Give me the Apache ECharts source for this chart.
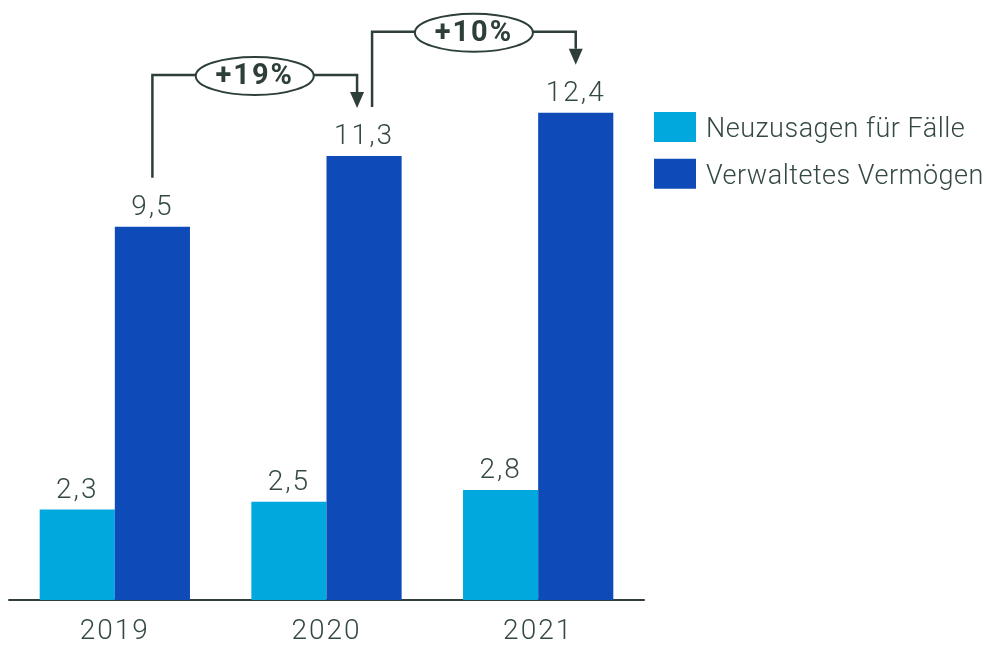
<!DOCTYPE html>
<html>
<head>
<meta charset="utf-8">
<script src="https://cdn.jsdelivr.net/npm/echarts@6/dist/echarts.min.js"></script>
<style>
html,body{margin:0;padding:0;background:#fff;}
#chart{width:990px;height:645px;}
</style>
</head>
<body>
<div id="chart"></div>
<script>
const categories = ['2019', '2020', '2021'];
const neuzusagen = [2.3, 2.5, 2.8];
const vermoegen = [9.5, 11.3, 12.4];
const seriesNames = ['Neuzusagen für Fälle', 'Verwaltetes Vermögen'];
const growthFrom = [0, 1];
const growthTo = [1, 2];
const growthLabels = ['+19%', '+10%'];

// letter spacing for canvas text (reference typeface is tracked out)
(function () {
  const proto = CanvasRenderingContext2D.prototype;
  const desc = Object.getOwnPropertyDescriptor(proto, 'font');
  if (!desc || !('letterSpacing' in proto)) return;
  Object.defineProperty(proto, 'font', {
    configurable: true,
    get: function () { return desc.get.call(this); },
    set: function (v) {
      desc.set.call(this, v);
      const m = /(\d+(?:\.\d+)?)px/.exec(v);
      const s = m ? +m[1] : 0;
      this.letterSpacing = s === 27 ? '0.5px' : (s >= 28 ? '2px' : '0px');
    }
  });
})();

const TEXT = '#34493f';
const LINE = '#2d3f38';
const CAT_GAP = 0.29;

const bracketData = growthFrom.map((f, i) => [f, vermoegen[f], growthTo[i], vermoegen[growthTo[i]], i]);

const chart = echarts.init(document.getElementById('chart'));
const fmt = p => String(p.value).replace('.', ',');

chart.setOption({
  animation: false,
  grid: {left: 9, right: 346, top: 10.5, bottom: 45, containLabel: false, outerBoundsMode: 'none'},
  legend: {
    data: seriesNames, orient: 'vertical', left: 654, top: 112, padding: 0,
    itemWidth: 42, itemHeight: 30, itemGap: 15, icon: 'rect',
    formatter: name => '{t|' + name + '}',
    textStyle: {
      fontSize: 27, color: TEXT, fontFamily: 'Roboto', fontWeight: 300, padding: [0, 0, 0, 5],
      rich: {t: {fontSize: 27, color: TEXT, fontFamily: 'Roboto', fontWeight: 300, padding: [6, 0, 0, 0]}}
    }
  },
  xAxis: {
    type: 'category', data: categories,
    axisLine: {lineStyle: {color: LINE, width: 2}},
    axisTick: {show: false},
    axisLabel: {fontSize: 28, color: TEXT, margin: 17, fontFamily: 'Roboto', fontWeight: 300}
  },
  yAxis: {type: 'value', min: 0, max: 15, show: false, splitLine: {show: false}},
  series: [
    {
      name: seriesNames[0], type: 'bar', data: neuzusagen,
      barGap: '0%', barCategoryGap: (CAT_GAP * 100) + '%',
      itemStyle: {color: '#00a8de'},
      label: {show: true, position: 'top', distance: 4, fontSize: 28, color: TEXT, fontFamily: 'Roboto', fontWeight: 300, formatter: fmt}
    },
    {
      name: seriesNames[1], type: 'bar', data: vermoegen,
      itemStyle: {color: '#0f4bb8'},
      label: {show: true, position: 'top', distance: 4, fontSize: 28, color: TEXT, fontFamily: 'Roboto', fontWeight: 300, formatter: fmt}
    },
    {
      type: 'custom', data: bracketData, encode: {x: 0, y: 1},
      clip: false, z: 10, silent: true,
      renderItem: function (params, api) {
        const fIdx = api.value(0), fVal = api.value(1), tIdx = api.value(2), tVal = api.value(3), k = api.value(4);
        const catW = api.size([1, 0])[0];
        const barW = catW * (1 - CAT_GAP) / 2;
        const pf = api.coord([fIdx, fVal]);
        const pt = api.coord([tIdx, tVal]);
        const pm = api.coord([fIdx, Math.max(fVal, tVal)]);
        const x1 = pf[0] + barW / 2 + (fIdx > 0 ? 8 : 0);
        const x2 = pt[0] + barW / 2 + (tIdx < categories.length - 1 ? -7 : 0);
        const y1 = pf[1] - 49;
        const yh = Math.min(pm[1], pt[1]) - 81;
        const tip = pt[1] - 48;
        const ah = 16, aw = 7;
        const cx = (x1 + x2) / 2;
        return {
          type: 'group',
          children: [
            {type: 'polyline', shape: {points: [[x1, y1], [x1, yh], [x2, yh], [x2, tip - ah]]},
             style: {stroke: LINE, lineWidth: 2.5, fill: null}},
            {type: 'polygon', shape: {points: [[x2 - aw, tip - ah], [x2 + aw, tip - ah], [x2, tip]]},
             style: {fill: LINE}},
            {type: 'ellipse', shape: {cx: cx, cy: yh + 1, rx: 59, ry: 19},
             style: {fill: '#fff', stroke: LINE, lineWidth: 2}},
            {type: 'text', x: cx, y: yh + 2,
             style: {text: growthLabels[k], fill: LINE, font: 'bold 29px Roboto', align: 'center', verticalAlign: 'middle'}}
          ]
        };
      }
    }
  ]
});
</script>
</body>
</html>
